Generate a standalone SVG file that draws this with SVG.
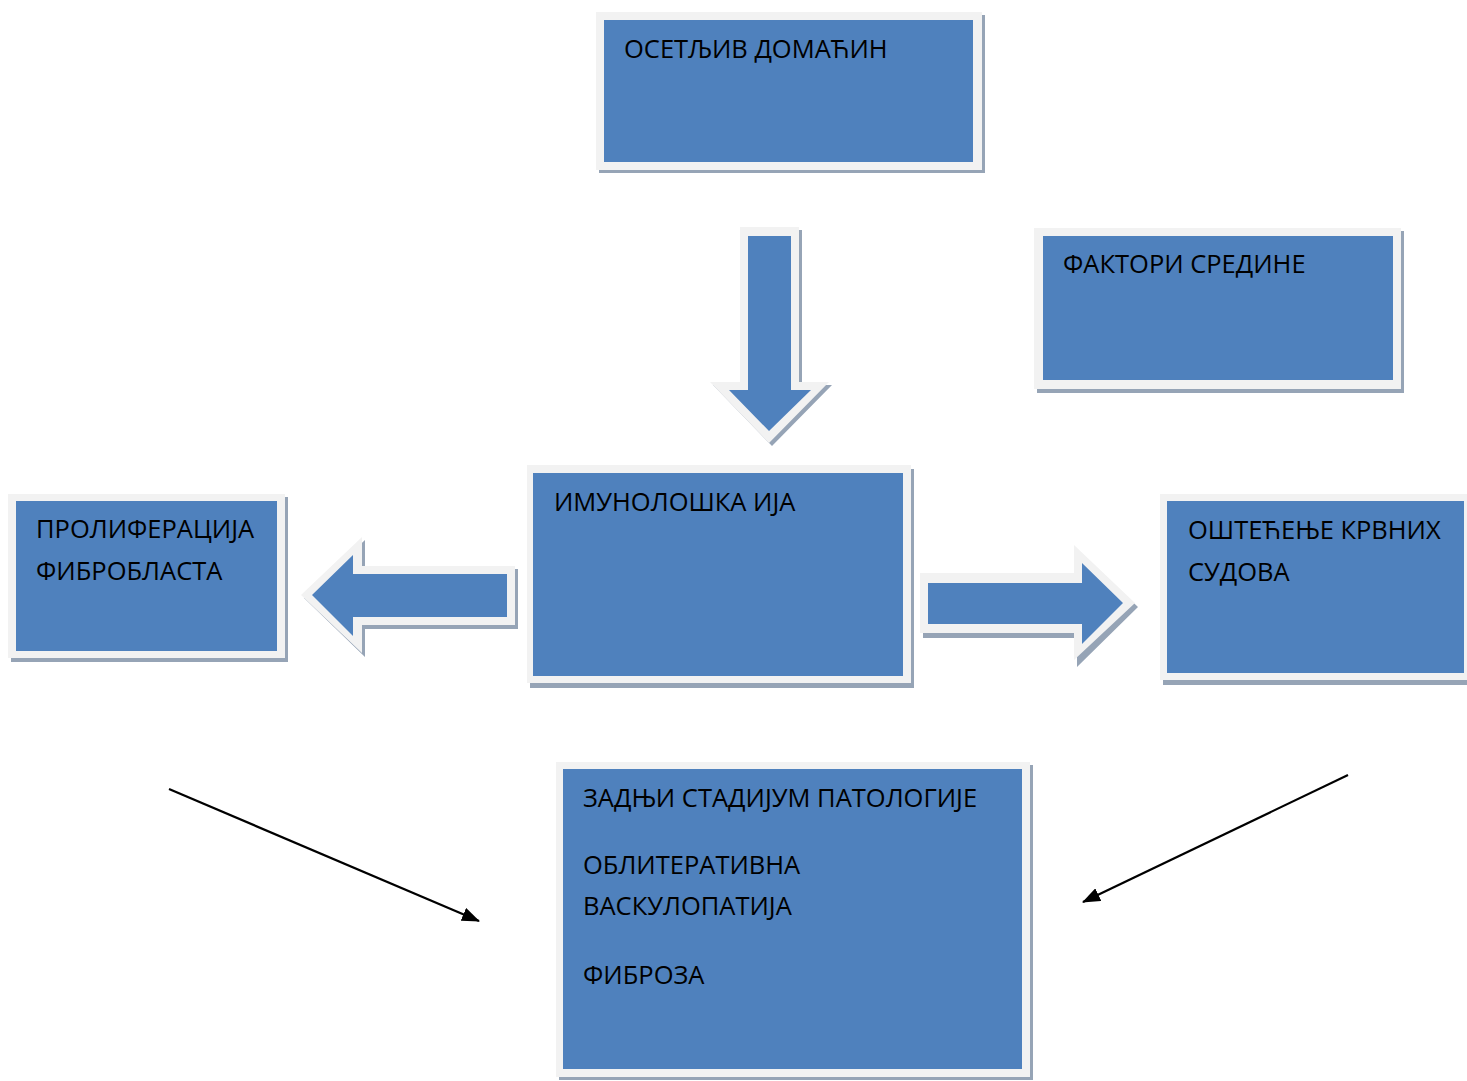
<svg xmlns="http://www.w3.org/2000/svg" width="1467" height="1081" viewBox="0 0 1467 1081">
<style>
.sh{fill:#96a4b6}
.fr{fill:#f2f2f2}
.bl{fill:#4f81bd}
.t{font-family:"Open Sans","Noto Sans","Liberation Sans",sans-serif;font-size:25.5px;fill:#000}
.ln{stroke:#000;stroke-width:2.2;fill:none}
</style>
<defs>
<marker id="ah" markerWidth="18" markerHeight="14" refX="17" refY="7" orient="auto" markerUnits="userSpaceOnUse" viewBox="0 0 18 14">
<path d="M0,0 L18,7 L0,14 Z" fill="#000"/>
</marker>
</defs>
<rect width="1467" height="1081" fill="#fff"/>

<g id="node-host">
<rect class="sh" x="599" y="15" width="386" height="158"/>
<rect class="fr" x="596" y="12" width="386" height="158"/>
<rect class="bl" x="604" y="20" width="369" height="142"/>
<text class="t" x="624" y="58">ОСЕТЉИВ ДОМАЋИН</text>
</g>

<g id="node-env">
<rect class="sh" x="1037" y="231" width="367" height="162"/>
<rect class="fr" x="1034" y="228" width="367" height="161"/>
<rect class="bl" x="1043" y="236" width="350" height="144"/>
<text class="t" x="1063" y="273">ФАКТОРИ СРЕДИНЕ</text>
</g>

<g id="node-immuno">
<rect class="sh" x="530" y="469" width="384" height="219"/>
<rect class="fr" x="527" y="465" width="384" height="218"/>
<rect class="bl" x="533" y="473" width="370" height="203"/>
<text class="t" x="554" y="511">ИМУНОЛОШКА ИЈА</text>
</g>

<g id="node-fibro">
<rect class="sh" x="11" y="497" width="277" height="165"/>
<rect class="fr" x="8" y="494" width="277" height="164"/>
<rect class="bl" x="16" y="501" width="261" height="150"/>
<text class="t" x="36" y="538">ПРОЛИФЕРАЦИЈА</text>
<text class="t" x="36" y="580">ФИБРОБЛАСТА</text>
</g>

<g id="node-vessels">
<rect class="sh" x="1163" y="497" width="304" height="188"/>
<rect class="fr" x="1160" y="494" width="307" height="186"/>
<rect class="bl" x="1167" y="501" width="297" height="172"/>
<text class="t" x="1188" y="539">ОШТЕЋЕЊЕ КРВНИХ</text>
<text class="t" x="1188" y="581">СУДОВА</text>
</g>

<g id="node-final">
<rect class="sh" x="559" y="765" width="474" height="315"/>
<rect class="fr" x="556" y="762" width="474" height="315"/>
<rect class="bl" x="563" y="769" width="459" height="300"/>
<text class="t" x="583" y="807">ЗАДЊИ СТАДИЈУМ ПАТОЛОГИЈЕ</text>
<text class="t" x="583" y="874">ОБЛИТЕРАТИВНА</text>
<text class="t" x="583" y="915">ВАСКУЛОПАТИЈА</text>
<text class="t" x="583" y="984">ФИБРОЗА</text>
</g>

<g id="connectors">
<g id="arrow-down">
<polygon class="sh" points="743,230 802,230 802,385 832,385 772,446 713,385 743,385"/>
<polygon class="fr" points="740,227 799,227 799,382 829,382 769,443 710,382 740,382"/>
<polygon class="bl" points="748,236 791,236 791,390 811,390 769,431 729,390 748,390"/>
</g>
<g id="arrow-left">
<polygon class="sh" points="518,569 518,629 365,629 365,657 304,598 365,540 365,569"/>
<polygon class="fr" points="515,566 515,625 362,625 362,653 301,595 362,537 362,566"/>
<polygon class="bl" points="507,574 507,617 353,617 353,636 312,595 353,555 353,574"/>
</g>
<g id="arrow-right">
<polygon class="sh" points="923,577 1077,577 1077,549 1138,607 1077,667 1077,638 923,638"/>
<polygon class="fr" points="920,573 1074,573 1074,545 1135,603 1074,660 1074,633 920,633"/>
<polygon class="bl" points="928,583 1082,583 1082,563 1123,603 1082,644 1082,624 928,624"/>
</g>
<line class="ln" x1="169" y1="789" x2="479" y2="921" marker-end="url(#ah)"/>
<line class="ln" x1="1348" y1="775" x2="1083" y2="902" marker-end="url(#ah)"/>
</g>
</svg>
